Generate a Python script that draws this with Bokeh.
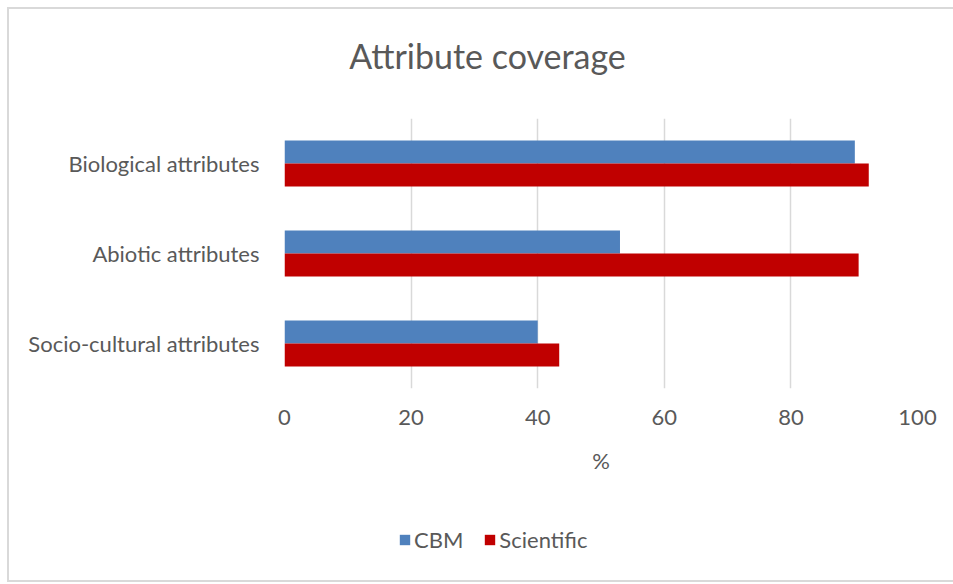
from bokeh.plotting import figure
from bokeh.layouts import column
from bokeh.models import (ColumnDataSource, FactorRange, Range1d, FixedTicker,
                          Label, Legend, LegendItem)
from bokeh.transform import dodge
from bokeh.embed import file_html
from bokeh.resources import INLINE

# Attribute coverage (%) per attribute group
categories = ["Socio-cultural attributes", "Abiotic attributes", "Biological attributes"]
cbm = [40.0, 53.0, 90.1]
scientific = [43.4, 90.7, 92.3]
x_ticks = [0, 20, 40, 60, 80, 100]

FONT = "Lato"
GREY = "#595959"
BLUE = "#4F81BD"
RED = "#C00000"
W = 944

src = ColumnDataSource(dict(cat=categories, cbm=cbm, sci=scientific))


def strip(height):
    """A plain strip without axes or grid, stacked above or below the chart."""
    f = figure(width=W, height=height, x_range=Range1d(0, 100),
               y_range=FactorRange(*categories),
               x_axis_location=None, y_axis_location=None,
               output_backend="svg", toolbar_location=None,
               min_border=0)
    f.outline_line_color = None
    f.grid.visible = False
    return f


# --- title strip ---
top = strip(70)
top.add_layout(Label(x=203, y=24, x_units="screen", y_units="screen",
                     text="Attribute coverage", text_align="center",
                     text_baseline="alphabetic", text_font=FONT,
                     text_font_size="34px", text_color=GREY))

# --- bar chart ---
p = figure(frame_width=633, frame_height=270,
           y_range=FactorRange(*categories), x_range=Range1d(0, 100),
           output_backend="svg", toolbar_location=None,
           min_border_left=275, min_border_right=36,
           min_border_top=39, min_border_bottom=100)
p.outline_line_color = None

bar_h = 0.256
p.hbar(y=dodge("cat", bar_h / 2, range=p.y_range), left=0, right="cbm",
       height=bar_h, source=src, fill_color=BLUE, line_color=None)
p.hbar(y=dodge("cat", -bar_h / 2, range=p.y_range), left=0, right="sci",
       height=bar_h, source=src, fill_color=RED, line_color=None)

xa = p.xaxis[0]
xa.ticker = FixedTicker(ticks=x_ticks)
xa.minor_tick_line_color = None
xa.axis_line_color = None
xa.major_tick_line_color = None
xa.major_tick_in = 0
xa.major_tick_out = 0
xa.major_label_standoff = 21
xa.major_label_text_font = FONT
xa.major_label_text_font_size = "22px"
xa.major_label_text_color = GREY
xa.axis_label = "%"
xa.axis_label_text_font = FONT
xa.axis_label_text_font_size = "22px"
xa.axis_label_text_font_style = "normal"
xa.axis_label_text_color = GREY
xa.axis_label_standoff = 19

ya = p.yaxis[0]
ya.axis_line_color = None
ya.major_tick_line_color = None
ya.minor_tick_line_color = None
ya.major_tick_in = 0
ya.major_tick_out = 0
ya.major_label_standoff = 25
ya.major_label_text_font = FONT
ya.major_label_text_font_size = "22px"
ya.major_label_text_color = GREY

p.ygrid.grid_line_color = None
p.xgrid.grid_line_color = "#d9d9d9"
p.xgrid.grid_line_width = 1.5

# --- legend strip: hidden copies of the two series supply the key glyphs ---
bottom = strip(92)
k_cbm = bottom.hbar(y="cat", left=0, right="cbm", height=0.5, source=src,
                    fill_color=BLUE, line_color=None, visible=False)
k_sci = bottom.hbar(y="cat", left=0, right="sci", height=0.5, source=src,
                    fill_color=RED, line_color=None, visible=False)
legend = Legend(items=[LegendItem(label="CBM", renderers=[k_cbm]),
                       LegendItem(label="Scientific", renderers=[k_sci])],
                orientation="horizontal", location=(114, 27),
                glyph_width=13, glyph_height=13, label_standoff=3, spacing=20,
                padding=0, margin=0, border_line_color=None,
                background_fill_alpha=0, inactive_fill_alpha=0,
                label_text_font=FONT, label_text_font_size="22px",
                label_text_color=GREY)
bottom.add_layout(legend)

page = column(top, p, bottom, spacing=0)
page.margin = (7, 0, 0, 7)
page.styles = {"box-sizing": "content-box",
               "border-left": "2px solid #d9d9d9",
               "border-top": "2px solid #d9d9d9",
               "border-bottom": "2px solid #d9d9d9",
               "border-right": "none"}

open("out.html", "w").write(file_html(page, INLINE))
